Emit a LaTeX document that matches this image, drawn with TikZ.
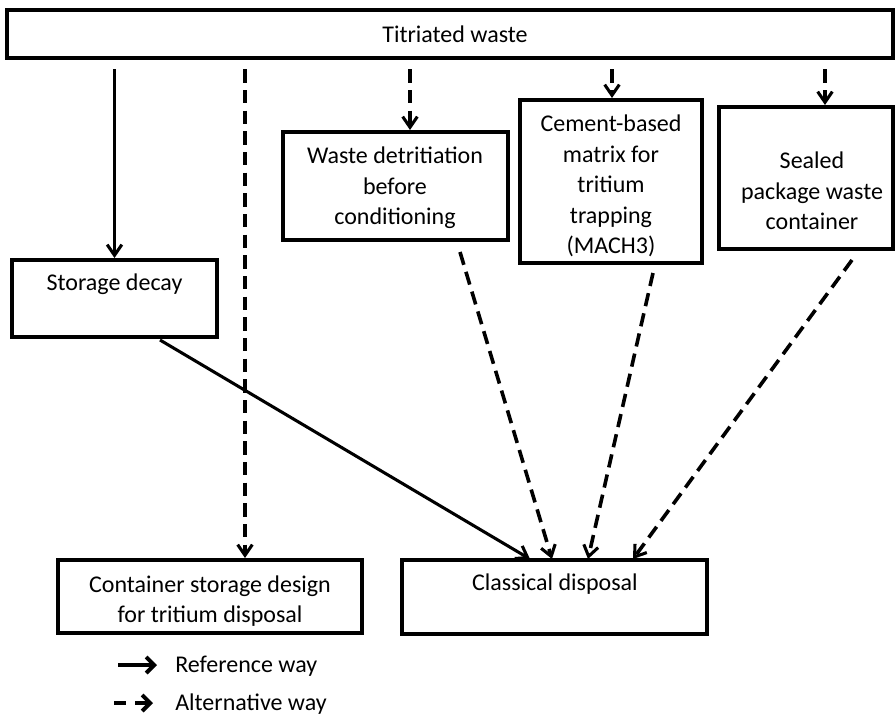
\documentclass[tikz,border=0pt]{standalone}
\usepackage{fontspec}
\setmainfont{Carlito}
\usetikzlibrary{arrows.meta,fit,calc}
\begin{document}
\begin{tikzpicture}[x=0.75pt,y=-0.75pt,
  box/.style={draw=black, line width=3pt, inner sep=0pt},
  lbl/.style={font=\fontsize{18pt}{22.9pt}\selectfont, align=center, inner sep=0pt},
  refway/.style={line width=2.3pt, -{Straight Barb[length=8pt,width=11pt,line width=2.3pt]}},
  altway/.style={line width=2.7pt, dash pattern=on 10pt off 5.5pt, -{Straight Barb[length=8pt,width=11pt,line width=2.3pt]}}
]
\useasboundingbox (0,0) rectangle (896,715);
\fill[white] (0,0) rectangle (896,715);

% boxes
\node[box, fit={(7,10) (893,58)}] (tw) {};
\node[lbl] (twt) at (455,34) {Titriated waste};

\node[box, fit={(12,260) (217,337)}] (sd) {};
\node[lbl] (sdt) at (114.5,284) {Storage decay};

\node[box, fit={(283,132) (508,240)}] (wd) {};
\node[lbl] (wdt) at (395,188) {Waste detritiation\\before\\conditioning};

\node[box, fit={(520,100) (702,263)}] (cb) {};
\node[lbl] (cbt) at (611,186) {Cement-based\\matrix for\\tritium\\trapping\\(MACH3)};

\node[box, fit={(719,107) (893,249)}] (sp) {};
\node[lbl] (spt) at (812,191) {Sealed\\package waste\\container};

\node[box, fit={(58,560) (362,633)}] (cs) {};
\node[lbl] (cst) at (210,601) {Container storage design\\for tritium disposal};

\node[box, fit={(402,560) (707,634)}] (cd) {};
\node[lbl] (cdt) at (555,584) {Classical disposal};

% x positions of the vertical connectors
\coordinate (x2) at (245,0);
\coordinate (x3) at (410,0);
\coordinate (x4) at (612,0);
\coordinate (x5) at (825,0);

% connectors
\draw[refway, shorten <=7pt] (tw.south -| sd.north) -- (sd.north);
\draw[altway, shorten <=7pt] (tw.south -| x2) -- (cs.north -| x2);
\draw[altway, shorten <=7pt] (tw.south -| x3) -- (wd.north -| x3);
\draw[altway, shorten <=7pt] (tw.south -| x4) -- (cb.north -| x4);
\draw[altway, shorten <=7pt] (tw.south -| x5) -- (sp.north -| x5);

\coordinate (s1) at (160,340);
\coordinate (e1) at (530,559);
\draw[refway] (s1) -- (e1);

\coordinate (s2) at (460,252);
\coordinate (e2) at (552,559);
\draw[altway] (s2) -- (e2);

\coordinate (s3) at (653,273);
\coordinate (e3) at (588,559);
\draw[altway] (s3) -- (e3);

\coordinate (s4) at (852,260);
\coordinate (e4) at (633,559);
\draw[altway] (s4) -- (e4);

% legend
\coordinate (l1a) at (118,665);
\coordinate (l1b) at (157,665);
\draw[line width=3pt, -{Straight Barb[length=6pt,width=12pt,line width=3pt]}] (l1a) -- (l1b);
\node[lbl, anchor=west] (lr) at (175,666) {Reference way};

\coordinate (l2a) at (114,703);
\coordinate (l2b) at (153,703);
\draw[line width=3pt, dash pattern=on 9pt off 7pt, -{Straight Barb[length=6pt,width=12pt,line width=3pt]}] (l2a) -- (l2b);
\node[lbl, anchor=west] (la) at (175,704) {Alternative way};
\end{tikzpicture}
\end{document}
